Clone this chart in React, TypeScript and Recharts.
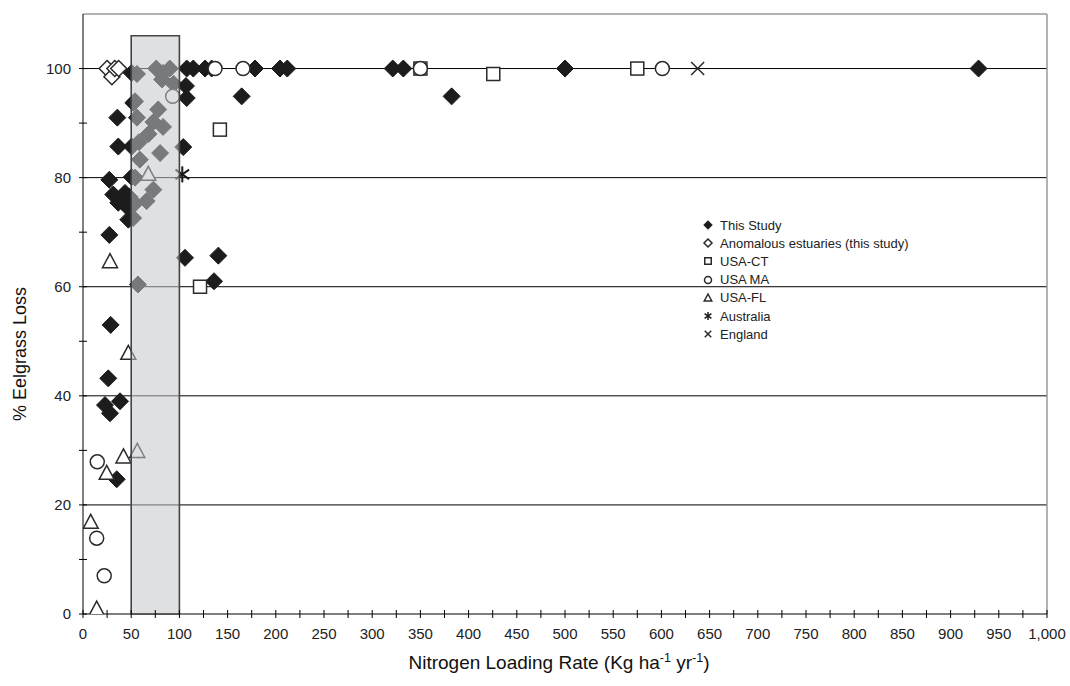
import React from 'react';
import {
  ScatterChart, Scatter, XAxis, YAxis, CartesianGrid, ReferenceArea, ReferenceLine, Legend
} from 'recharts';

// nitrogen loading (x) vs % eelgrass loss (y)
const thisStudy = [
  { x: 50.5, y: 99.2 }, { x: 107.6, y: 100 }, { x: 114.4, y: 100 }, { x: 126.6, y: 100 },
  { x: 133.5, y: 100 }, { x: 178.4, y: 100 }, { x: 204.4, y: 100 }, { x: 211.9, y: 100 },
  { x: 321.3, y: 100 }, { x: 332.3, y: 100 }, { x: 500, y: 100 }, { x: 929, y: 100 },
  { x: 106.8, y: 96.8 }, { x: 107.6, y: 94.6 }, { x: 164.6, y: 94.9 }, { x: 382.4, y: 94.9 },
  { x: 52.2, y: 93.7 }, { x: 35.6, y: 91 }, { x: 36.6, y: 85.7 }, { x: 50.5, y: 85.7 },
  { x: 104, y: 85.6 }, { x: 27.3, y: 79.6 }, { x: 50.5, y: 80.1 }, { x: 31.4, y: 76.9 },
  { x: 43.6, y: 77.2 }, { x: 36.6, y: 75.4 }, { x: 45.3, y: 74.7 }, { x: 47, y: 72.3 },
  { x: 48, y: 76.5 }, { x: 40, y: 75.7 }, { x: 27.3, y: 69.5 }, { x: 105.8, y: 65.3 },
  { x: 140.4, y: 65.7 }, { x: 135.9, y: 61 }, { x: 28.7, y: 53 }, { x: 26.2, y: 43.2 },
  { x: 22.8, y: 38.3 }, { x: 38.4, y: 39 }, { x: 28, y: 36.8 }, { x: 35, y: 24.7 },
  { x: 56, y: 99 }, { x: 76, y: 100 }, { x: 83, y: 99.2 }, { x: 90, y: 100 },
  { x: 82, y: 98 }, { x: 94, y: 97.2 }, { x: 54, y: 94 }, { x: 56, y: 91 },
  { x: 78, y: 92.5 }, { x: 73, y: 90.2 }, { x: 83, y: 89.3 }, { x: 68, y: 88 },
  { x: 58, y: 86.5 }, { x: 59, y: 83.3 }, { x: 80, y: 84.5 }, { x: 54, y: 80 },
  { x: 73, y: 77.8 }, { x: 66, y: 75.7 }, { x: 54, y: 75.3 }, { x: 52, y: 72.6 },
  { x: 57, y: 60.4 },
];
const anomalous = [{ x: 25, y: 100 }, { x: 30, y: 98.5 }, { x: 33, y: 100 }, { x: 37, y: 100 }];
const usaCT = [{ x: 142, y: 88.8 }, { x: 121.4, y: 60 }, { x: 350, y: 100 }, { x: 425.6, y: 99 }, { x: 575, y: 100 }];
const usaMA = [
  { x: 93, y: 94.9 }, { x: 137, y: 100 }, { x: 166, y: 100 }, { x: 350, y: 100 },
  { x: 601, y: 100 }, { x: 14.8, y: 27.9 }, { x: 14.2, y: 13.9 }, { x: 22, y: 7 },
];
const usaFL = [
  { x: 28, y: 64.6 }, { x: 47, y: 47.8 }, { x: 67.7, y: 80.6 }, { x: 42, y: 28.8 },
  { x: 56.3, y: 29.8 }, { x: 24.6, y: 25.8 }, { x: 8, y: 16.8 }, { x: 14.2, y: 0.9 },
];
const australia = [{ x: 103, y: 80.6 }];
const england = [{ x: 637.6, y: 100 }];

const xTicks = [0, 25, 50, 75, 100, 125, 150, 175, 200, 225, 250, 275, 300, 325, 350, 375, 400,
  425, 450, 475, 500, 525, 550, 575, 600, 625, 650, 675, 700, 725, 750, 775, 800, 825, 850, 875,
  900, 925, 950, 975, 1000];
const yTicks = [0, 10, 20, 30, 40, 50, 60, 70, 80, 90, 100];
const gridLines = [20, 40, 60, 80, 100];

const FONT = 'Arial, "Liberation Sans", sans-serif';
const INK = '#1c1c1c';

type Kind = 'diamond' | 'openDiamond' | 'square' | 'circle' | 'triangle' | 'star' | 'cross';

const Marker = ({ kind, cx, cy, s = 1 }: { kind: Kind; cx: number; cy: number; s?: number }) => {
  const open = { fill: '#fff', stroke: '#2a2a2a', strokeWidth: 1.5 };
  if (kind === 'diamond') {
    const r = 8.5 * s;
    return <polygon points={`${cx},${cy - r} ${cx + r},${cy} ${cx},${cy + r} ${cx - r},${cy}`} fill={INK} stroke={INK} />;
  }
  if (kind === 'openDiamond') {
    const r = 8 * s;
    return <polygon points={`${cx},${cy - r} ${cx + r},${cy} ${cx},${cy + r} ${cx - r},${cy}`} {...open} />;
  }
  if (kind === 'square') {
    const h = 6.5 * s;
    return <rect x={cx - h} y={cy - h} width={h * 2} height={h * 2} {...open} />;
  }
  if (kind === 'circle') return <circle cx={cx} cy={cy} r={7 * s} {...open} />;
  if (kind === 'triangle') {
    return <polygon points={`${cx},${cy - 8 * s} ${cx + 7.5 * s},${cy + 6 * s} ${cx - 7.5 * s},${cy + 6 * s}`} {...open} />;
  }
  if (kind === 'star') {
    const r = 8 * s;
    return (
      <g stroke="#1a1a1a" strokeWidth={s < 1 ? 1.5 : 2}>
        <line x1={cx} y1={cy - r} x2={cx} y2={cy + r} />
        <line x1={cx - r * 0.85} y1={cy - r * 0.6} x2={cx + r * 0.85} y2={cy + r * 0.6} />
        <line x1={cx - r * 0.85} y1={cy + r * 0.6} x2={cx + r * 0.85} y2={cy - r * 0.6} />
      </g>
    );
  }
  const r = 6.5 * s;
  return (
    <g stroke="#2a2a2a" strokeWidth={1.5}>
      <line x1={cx - r} y1={cy - r} x2={cx + r} y2={cy + r} />
      <line x1={cx - r} y1={cy + r} x2={cx + r} y2={cy - r} />
    </g>
  );
};

const series: { name: string; kind: Kind; data: { x: number; y: number }[] }[] = [
  { name: 'This Study', kind: 'diamond', data: thisStudy },
  { name: 'Anomalous estuaries (this study)', kind: 'openDiamond', data: anomalous },
  { name: 'USA-CT', kind: 'square', data: usaCT },
  { name: 'USA MA', kind: 'circle', data: usaMA },
  { name: 'USA-FL', kind: 'triangle', data: usaFL },
  { name: 'Australia', kind: 'star', data: australia },
  { name: 'England', kind: 'cross', data: england },
];

const XTick = (props: any) => {
  const { x, y, payload } = props;
  const v = payload.value;
  return (
    <g>
      <line x1={x} x2={x} y1={y - 4} y2={y + 4} stroke="#000" />
      {v % 50 === 0 && (
        <text x={x} y={y + 25} textAnchor="middle" fontSize={15} fontFamily={FONT} fill="#222">
          {v.toLocaleString('en-US')}
        </text>
      )}
    </g>
  );
};

const YTick = (props: any) => {
  const { x, y, payload } = props;
  const v = payload.value;
  return (
    <g>
      <line x1={x - 4} x2={x + 4} y1={y} y2={y} stroke="#000" />
      {v % 20 === 0 && (
        <text x={x - 12} y={y + 5} textAnchor="end" fontSize={15} fontFamily={FONT} fill="#222">
          {v}
        </text>
      )}
    </g>
  );
};

const LegendBox = () => (
  <div style={{ fontFamily: FONT, fontSize: 13, color: '#222' }}>
    {series.map((s) => (
      <div key={s.name} style={{ height: 18.2, display: 'flex', alignItems: 'center' }}>
        <svg width={14} height={14} style={{ marginRight: 5 }}>
          <Marker kind={s.kind} cx={7} cy={7} s={0.5} />
        </svg>
        <span>{s.name}</span>
      </div>
    ))}
  </div>
);

const XTitle = (props: any) => {
  const vb = props.viewBox;
  const cx = vb.x + vb.width / 2 - 6;
  return (
    <text x={cx} y={vb.y + 55} textAnchor="middle" fontSize={19} fontFamily={FONT} fill="#111">
      Nitrogen Loading Rate (Kg ha
      <tspan dy={-7} fontSize={12.5}>-1</tspan>
      <tspan dy={7}> yr</tspan>
      <tspan dy={-7} fontSize={12.5}>-1</tspan>
      <tspan dy={7}>)</tspan>
    </text>
  );
};

const YTitle = (props: any) => {
  const vb = props.viewBox;
  const cy = vb.y + vb.height / 2 + 40;
  return (
    <text x={26} y={cy} transform={`rotate(-90 26 ${cy})`} textAnchor="middle" fontSize={18} fontFamily={FONT} fill="#111">
      % Eelgrass Loss
    </text>
  );
};

export default function App() {
  return (
    <div style={{ position: 'fixed', left: 0, top: 0, width: 1070, height: 686, background: '#fff' }}>
      <ScatterChart width={1070} height={686} margin={{ top: 14, right: 23, bottom: 32, left: 33 }}>
        <CartesianGrid horizontal vertical={false} horizontalValues={gridLines} stroke="#000" strokeWidth={1} />
        <XAxis
          type="number" dataKey="x" domain={[0, 1000]} ticks={xTicks} interval={0}
          tick={<XTick />} tickLine={false} tickSize={0} tickMargin={0} height={40}
          axisLine={{ stroke: '#000' }} allowDataOverflow label={<XTitle />}
        />
        <YAxis
          type="number" dataKey="y" domain={[0, 110]} ticks={yTicks} interval={0}
          tick={<YTick />} tickLine={false} tickSize={0} tickMargin={0} width={50}
          axisLine={{ stroke: '#000' }} allowDataOverflow label={<YTitle />}
        />
        <ReferenceLine y={110} stroke="#9a9a9a" strokeWidth={1.5} />
        <ReferenceLine x={1000} stroke="#9a9a9a" strokeWidth={1.5} />
        {series.map((s) => (
          <Scatter
            key={s.name} name={s.name} data={s.data} isAnimationActive={false}
            shape={(p: any) => <Marker kind={s.kind} cx={p.cx} cy={p.cy} />}
          />
        ))}
        <ReferenceArea
          x1={50} x2={100} y1={0} y2={106} zIndex={700}
          fill="#c4c6c9" fillOpacity={0.55} stroke="#444" strokeWidth={1.6}
        />
        <Legend
          layout="horizontal" align="center" verticalAlign="middle" content={<LegendBox />}
          wrapperStyle={{ left: 701, top: 216, width: 260, height: 130 }}
        />
      </ScatterChart>
    </div>
  );
}
